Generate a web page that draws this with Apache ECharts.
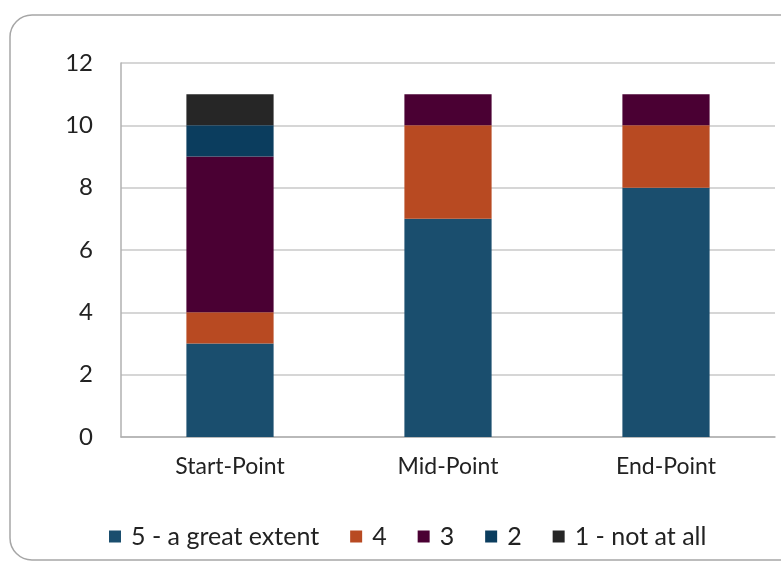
<!DOCTYPE html>
<html>
<head>
<meta charset="utf-8">
<script src="https://cdn.jsdelivr.net/npm/echarts@6/dist/echarts.min.js"></script>
<style>
html, body { margin: 0; padding: 0; background: #fff; }
#chart { width: 781px; height: 563px; }
</style>
</head>
<body>
<div id="chart"></div>
<script>
// categories
var categories = ["Start-Point", "Mid-Point", "End-Point"];
// series values (counts per response)
var great = [3, 7, 8];
var four = [1, 3, 2];
var three = [5, 1, 1];
var two = [1, 0, 0];
var notAtAll = [1, 0, 0];

var fontFam = "Lato, 'Noto Sans', sans-serif";

function bar(name, data, color) {
    return {
        name: name,
        type: "bar",
        stack: "total",
        barWidth: "40%",
        data: data,
        itemStyle: { color: color },
    };
}

var myChart = echarts.init(document.getElementById("chart"));
myChart.setOption({
    animation: false,
    graphic: [{
        type: "rect",
        shape: { x: 10, y: 15, width: 820, height: 545, r: 22 },
        style: { fill: "none", stroke: "#a6a6a6", lineWidth: 1.5 },
        silent: true,
    }],
    grid: { left: 121, right: 6, top: 63, bottom: 126 },
    legend: {
        bottom: 9,
        left: 104,
        itemWidth: 12,
        itemHeight: 12,
        itemGap: 31,
        icon: "rect",
        textStyle: { fontFamily: fontFam, fontSize: 25, color: "#222", padding: [0, 0, 0, 5] },
        data: ["5 - a great extent", "4", "3", "2", "1 - not at all"],
    },
    xAxis: {
        type: "category",
        data: categories,
        axisTick: { show: false },
        axisLine: { lineStyle: { color: "#b0b0b0", width: 1.5 } },
        axisLabel: { fontFamily: fontFam, fontSize: 23, color: "#222", margin: 18 },
    },
    yAxis: {
        type: "value",
        min: 0,
        max: 12,
        interval: 2,
        axisLine: { show: true, lineStyle: { color: "#b0b0b0", width: 1.5 } },
        axisTick: { show: false },
        splitLine: { lineStyle: { color: "#c8c8c8", width: 1.5 } },
        axisLabel: { fontFamily: fontFam, fontSize: 24, color: "#222", margin: 28 },
    },
    series: [
        bar("5 - a great extent", great, "#1a4e6e"),
        bar("4", four, "#b84a22"),
        bar("3", three, "#4a0033"),
        bar("2", two, "#0b3d5e"),
        bar("1 - not at all", notAtAll, "#262626"),
    ],
});
window.addEventListener("resize", function () {
    myChart.resize();
});
</script>
</body>
</html>
